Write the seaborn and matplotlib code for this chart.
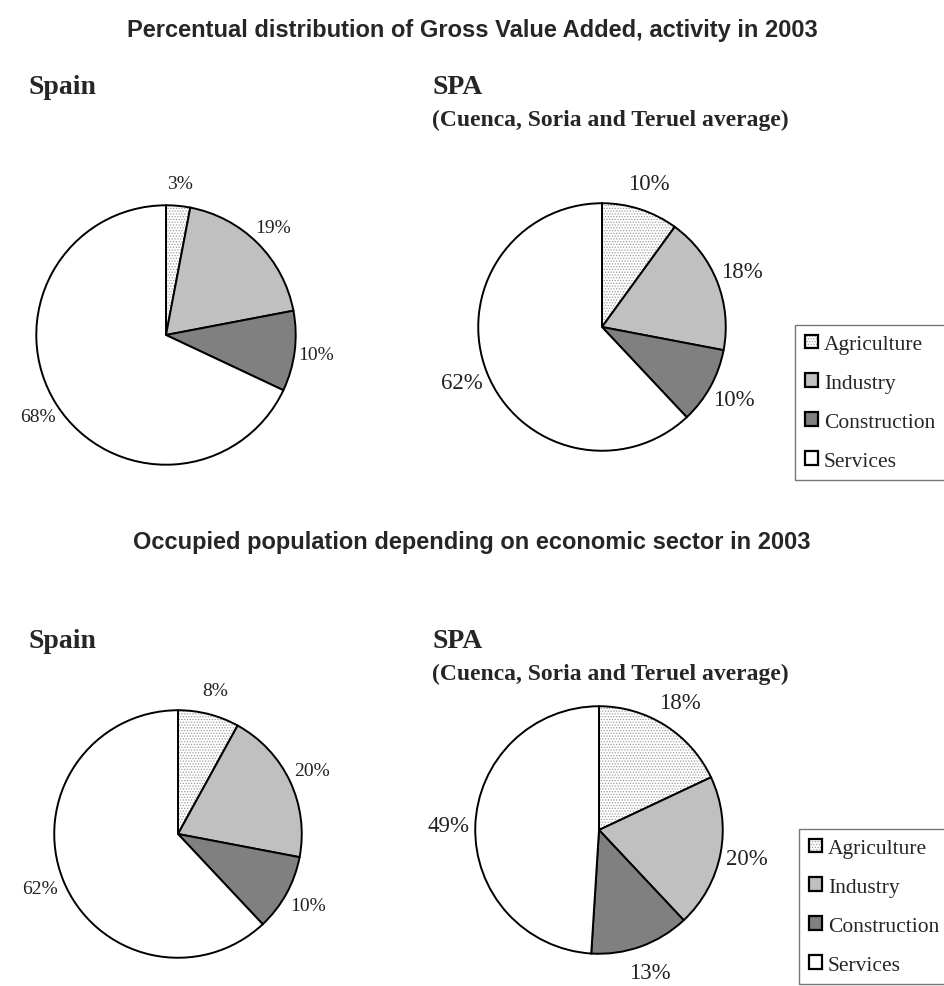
import matplotlib
matplotlib.use("Agg")
import matplotlib.pyplot as plt
import seaborn as sns

sectors = ["Agriculture", "Industry", "Construction", "Services"]
gva_spain = [3, 19, 10, 68]
gva_spa = [10, 18, 10, 62]
pop_spain = [8, 20, 10, 62]
pop_spa = [18, 20, 13, 49]

title_gva = "Percentual distribution of Gross Value Added, activity in 2003"
title_pop = "Occupied population depending on economic sector in 2003"
head_spain = "Spain"
head_spa = "SPA"
sub_spa = "(Cuenca, Soria and Teruel average)"

sns.set_theme(style="white")
plt.rcParams["font.family"] = ["Liberation Serif", "DejaVu Serif"]
plt.rcParams["hatch.linewidth"] = 0.6

W, H = 944, 987
fig = plt.figure(figsize=(W / 100, H / 100), dpi=100)
fig.patch.set_facecolor("white")

colors = ["white", "#c0c0c0", "#808080", "white"]


def px(x, y):
    return x / W, 1 - y / H


def draw_pie(values, cx, cy, r, fontsize, pctdist):
    ax = fig.add_axes([(cx - r) / W, 1 - (cy + r) / H, 2 * r / W, 2 * r / H])
    wedges, texts, autotexts = ax.pie(
        values, colors=colors, startangle=90, counterclock=False,
        autopct="%1.0f%%", pctdistance=pctdist,
        wedgeprops=dict(edgecolor="black", linewidth=1.4),
        textprops=dict(fontsize=fontsize, color="#222222"))
    wedges[0].set_hatch("......")
    wedges[0]._hatch_color = (0.62, 0.62, 0.62, 1.0)
    ax.set_xlim(-1.01, 1.01)
    ax.set_ylim(-1.01, 1.01)
    ax.set_aspect("auto")
    ax.axis("off")
    return wedges


def headings(ytop):
    fig.text(*px(28, ytop), head_spain, fontsize=20, fontweight="bold",
             va="center", ha="left")
    fig.text(*px(432, ytop), head_spa, fontsize=20, fontweight="bold",
             va="center", ha="left")
    fig.text(*px(432, ytop + 32), sub_spa, fontsize=17, fontweight="bold",
             va="center", ha="left")


def add_legend(handles, x, y):
    leg = fig.legend(handles, sectors, loc="upper left",
                     bbox_to_anchor=px(x, y), borderaxespad=0,
                     frameon=True, fancybox=False, fontsize=15.5,
                     handlelength=0.6, handleheight=0.6,
                     handletextpad=0.3, labelspacing=0.9,
                     borderpad=0.45)
    leg.get_frame().set_edgecolor("#555555")
    leg.get_frame().set_linewidth(1.0)
    for h in leg.legend_handles:
        h.set_linewidth(1.6)
    return leg


# top block
fig.text(*px(472, 30), title_gva, fontsize=17, fontweight="bold",
         family="Liberation Sans", ha="center", va="center")
headings(88)
w = draw_pie(gva_spain, 166, 336, 131, 14, 1.17)
draw_pie(gva_spa, 602, 328, 125, 16.5, 1.22)
add_legend(w, 795, 326)

# bottom block
fig.text(*px(472, 543), title_pop, fontsize=17, fontweight="bold",
         family="Liberation Sans", ha="center", va="center")
headings(642)
w = draw_pie(pop_spain, 178, 835, 125, 14, 1.2)
draw_pie(pop_spa, 599, 831, 125, 16.5, 1.22)
add_legend(w, 799, 830)

fig.savefig("out.png", dpi=100, facecolor="white")
